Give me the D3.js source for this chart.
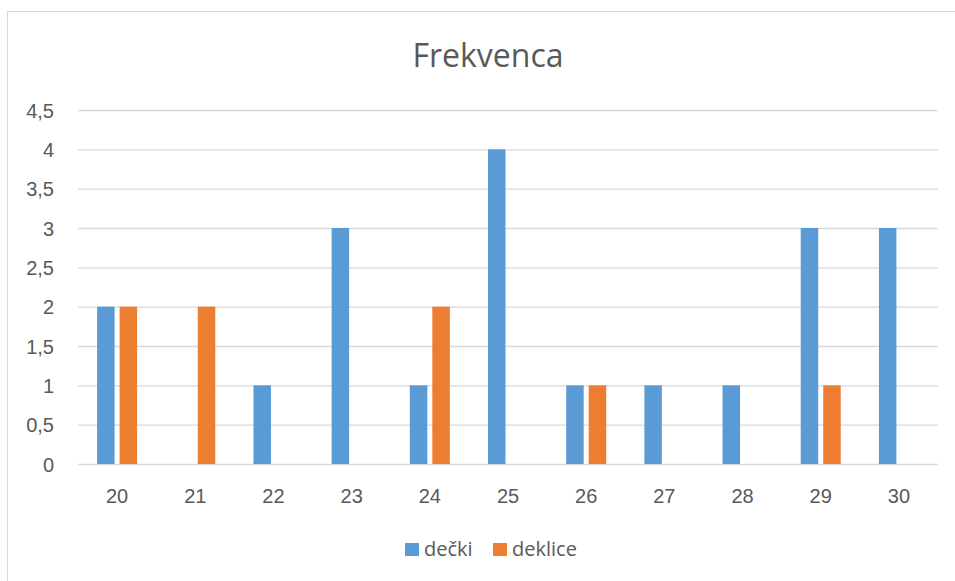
<!DOCTYPE html>
<html>
<head>
<meta charset="utf-8">
<script src="https://cdn.jsdelivr.net/npm/d3@7"></script>
<style>
  html, body { margin: 0; padding: 0; background: #fff; }
  svg { display: block; font-family: "Open Sans", "Noto Sans", sans-serif; }
</style>
</head>
<body>
<svg id="chart" width="955" height="581"></svg>
<script>
// Frequency of ages by group
const categories = ["20", "21", "22", "23", "24", "25", "26", "27", "28", "29", "30"];
const seriesNames = ["dečki", "deklice"];
const decki   = [2, 0, 1, 3, 1, 4, 1, 1, 1, 3, 3];
const deklice = [2, 2, 0, 0, 2, 0, 1, 0, 0, 1, 0];
const yTicks = [0, 0.5, 1, 1.5, 2, 2.5, 3, 3.5, 4, 4.5];
const colors = ["#5b9bd5", "#ed7d31"];
const title = "Frekvenca";

const svg = d3.select("#chart");
const W = 955, H = 581;
const margin = { left: 78, right: 17, top: 110, bottom: 117 };
const textColor = "#595959";

// outer chart frame
svg.append("rect")
  .attr("x", 7.5).attr("y", 11.5)
  .attr("width", 1000).attr("height", 1000)
  .attr("fill", "#fff").attr("stroke", "#d9d9d9").attr("stroke-width", 1);

const x0 = d3.scaleBand()
  .domain(categories)
  .range([margin.left, W - margin.right])
  .paddingInner(0).paddingOuter(0);

const x1 = d3.scaleBand()
  .domain(seriesNames)
  .range([-20, 20])
  .paddingInner(0.222).paddingOuter(0);

const y = d3.scaleLinear()
  .domain([0, 4.5])
  .range([H - margin.bottom, margin.top]);

const fmt = v => String(v).replace(".", ",");

// gridlines + y labels
const yAxis = d3.axisLeft(y)
  .tickValues(yTicks)
  .tickFormat(fmt)
  .tickSize(-(W - margin.right - margin.left))
  .tickPadding(24);

const gy = svg.append("g")
  .attr("transform", `translate(${margin.left},0)`)
  .call(yAxis);
gy.select(".domain").remove();
gy.selectAll(".tick line").attr("stroke", "#d9d9d9").attr("stroke-width", 1.3);
gy.selectAll(".tick text")
  .attr("fill", textColor)
  .attr("dy", "0.36em")
  .style("font-size", "20px");

// x labels
const xAxis = d3.axisBottom(x0).tickSize(0);
const gx = svg.append("g")
  .attr("transform", `translate(0,${y(0)})`)
  .call(xAxis);
gx.select(".domain").remove();
gx.selectAll(".tick text")
  .attr("fill", textColor)
  .attr("y", 39).attr("dy", 0)
  .style("font-size", "20px");

// bars
const rows = categories.map((c, i) => ({ cat: c, values: [decki[i], deklice[i]] }));
const groups = svg.append("g").selectAll("g")
  .data(rows)
  .join("g")
  .attr("transform", d => `translate(${x0(d.cat) + x0.bandwidth() / 2},0)`);

groups.selectAll("rect")
  .data(d => d.values.map((v, k) => ({ name: seriesNames[k], v, k })))
  .join("rect")
  .attr("x", d => x1(d.name))
  .attr("width", x1.bandwidth())
  .attr("y", d => y(d.v))
  .attr("height", d => y(0) - y(d.v))
  .attr("fill", d => colors[d.k]);

// title
svg.append("text")
  .attr("x", 488).attr("y", 67)
  .attr("text-anchor", "middle")
  .attr("fill", textColor)
  .style("font-size", "32px")
  .text(title);

// legend
const legendItems = [{ name: seriesNames[0], x: 405 }, { name: seriesNames[1], x: 493 }];
const lg = svg.append("g").selectAll("g")
  .data(legendItems)
  .join("g")
  .attr("transform", d => `translate(${d.x},543)`);
lg.append("rect")
  .attr("width", 14).attr("height", 13)
  .attr("fill", (d, i) => colors[i]);
lg.append("text")
  .attr("x", 19).attr("y", 13)
  .attr("fill", textColor)
  .style("font-size", "20px")
  .text(d => d.name);
</script>
</body>
</html>
